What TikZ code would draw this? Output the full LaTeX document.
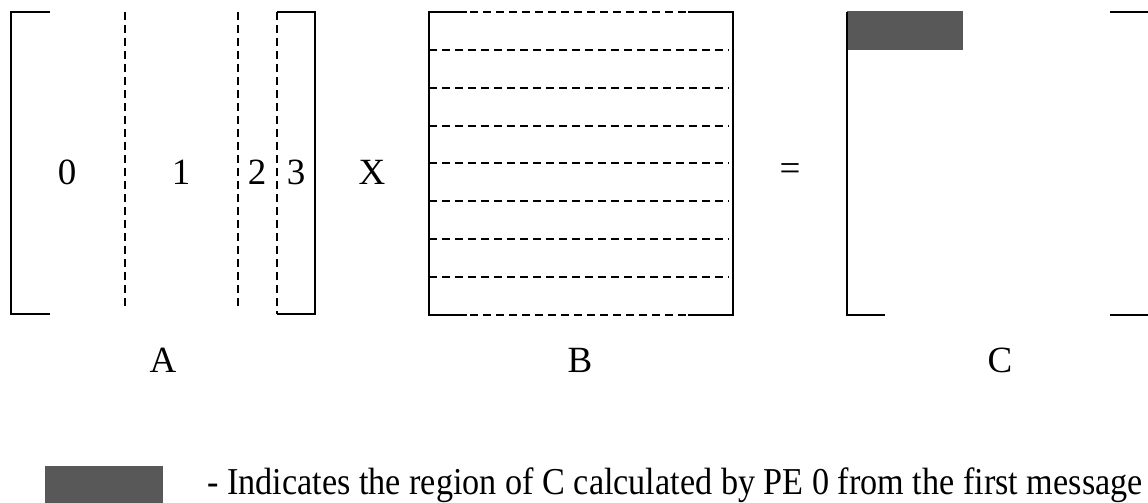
\documentclass[tikz,border=0pt]{standalone}
\usepackage{fontspec}
\setmainfont{Liberation Serif}
\definecolor{shade}{RGB}{88,88,88}
\begin{document}
\begin{tikzpicture}[x=1pt,y=-1pt,
  solidline/.style={line width=2.4pt},
  dashline/.style={line width=2.2pt,dash pattern=on 8pt off 5pt},
  lbl/.style={font=\fontsize{37}{40}\selectfont,inner sep=0pt,anchor=center},
  shadebox/.style={fill=shade,draw=shade,line width=1pt}]
\useasboundingbox (0,0) rectangle (1148,503);
% Matrix A
\draw[solidline] (50,12) -- (11,12) -- (11,314) -- (50,314);
\draw[solidline] (277,12) -- (315,12) -- (315,314) -- (277,314);
\draw[dashline] (125,12) -- (125,310);
\draw[dashline] (238,12) -- (238,310);
\draw[dashline] (277,12) -- (277,314);
\node[lbl] (a0) at (67,172) {0};
\node[lbl] (a1) at (181,172) {1};
\node[lbl] (a2) at (257,172) {2};
\node[lbl] (a3) at (296,172) {3};
\node[lbl] (times) at (372,172) {X};
\node[lbl] (la) at (163,360) {A};
% Matrix B
\draw[solidline] (467,12) -- (429,12) -- (429,315) -- (467,315);
\draw[solidline] (688,12) -- (733,12) -- (733,315) -- (688,315);
\draw[dashline] (470,12) -- (688,12);
\draw[dashline] (470,315) -- (688,315);
\foreach \y in {50,88,126,163,201,239,277}
  \draw[dashline] (429,\y) -- (729,\y);
\node[lbl] (lb) at (580,360) {B};
\node[lbl] (eq) at (790,172) {=};
% Matrix C
\draw[shadebox] (847,12) rectangle (962,50);
\draw[solidline] (847,12) -- (847,315) -- (885,315);
\draw[solidline] (1110,12) -- (1148,12);
\draw[solidline] (1110,315) -- (1148,315);
\node[lbl] (lc) at (1000,360) {C};
% Legend
\draw[shadebox] (45,466) rectangle (162,503);
\node[font=\fontsize{38}{40}\selectfont,inner sep=0pt,anchor=base west] (legend) at (207,494)
  {\scalebox{0.9}[1]{- Indicates the region of C calculated by PE 0 from the first message}};
\end{tikzpicture}
\end{document}
